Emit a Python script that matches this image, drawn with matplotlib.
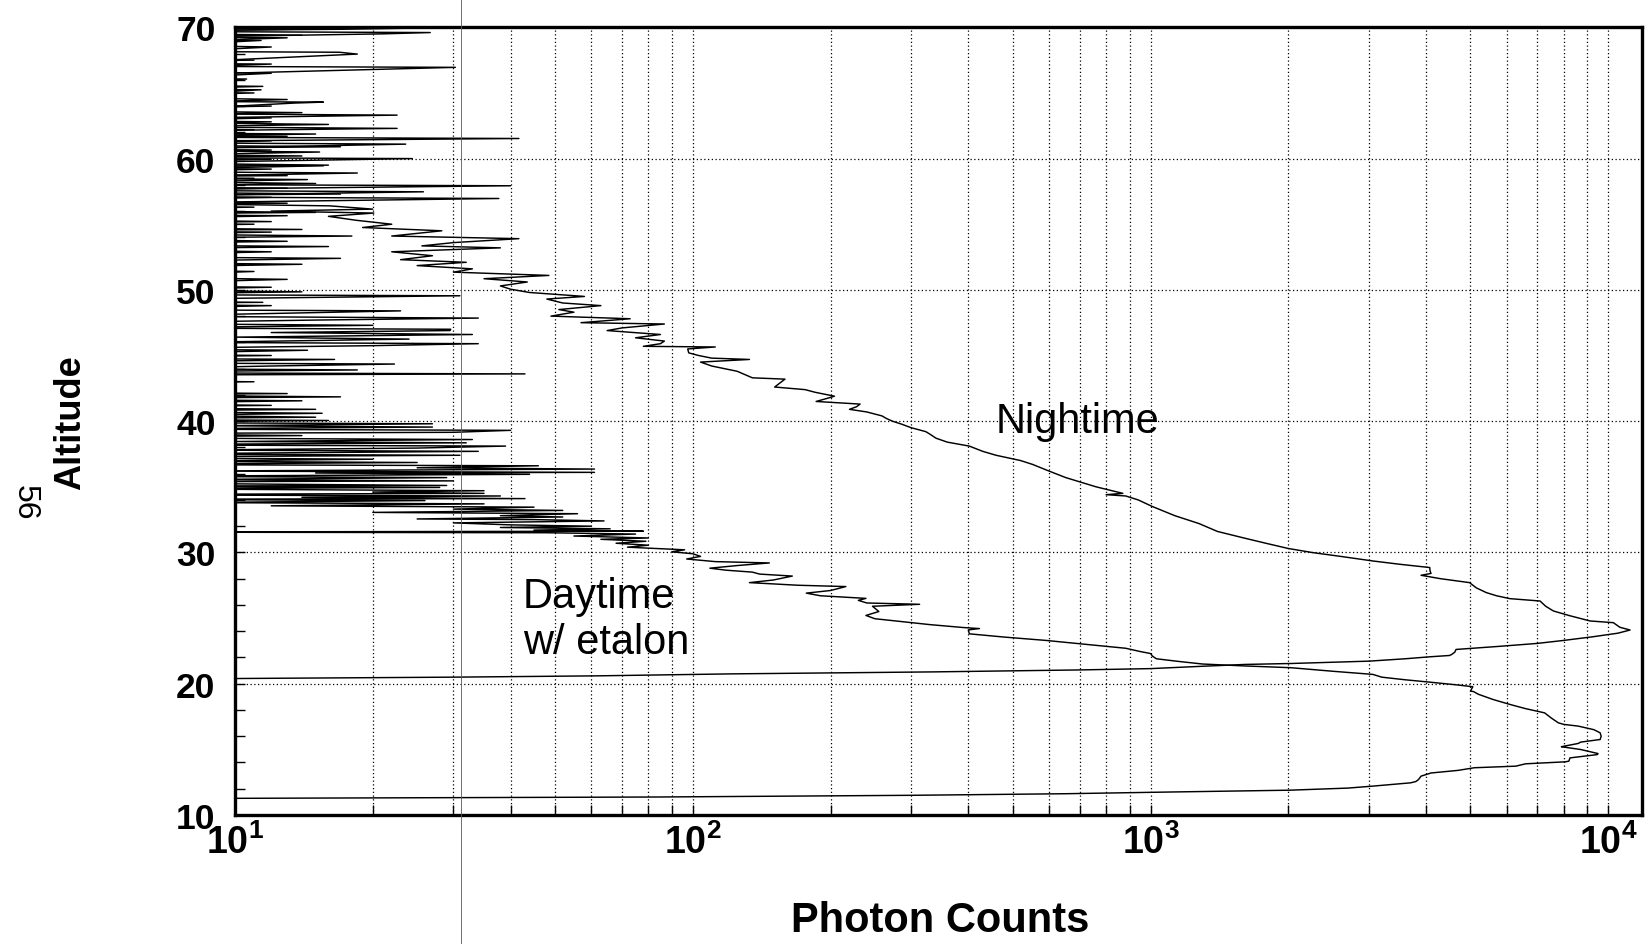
import matplotlib
matplotlib.use('Agg')
import matplotlib.pyplot as plt
from matplotlib.ticker import LogLocator, FixedLocator, MultipleLocator, NullFormatter
from matplotlib.lines import Line2D

# ---------------- data ----------------
day_alt = [11.20, 11.27, 11.37, 11.50, 11.62, 11.75, 11.89, 12.05, 12.20, 12.45, 12.55, 12.70, 12.96,
           13.20, 13.40, 13.60, 13.72, 13.90, 14.05, 14.10, 14.35, 14.60, 14.68, 14.99, 15.20, 15.24,
           15.45, 15.55, 15.75, 16.00, 16.26, 16.50, 16.77, 16.90, 17.02, 17.40, 17.78, 18.10, 18.42,
           18.80, 19.20, 19.40, 19.44, 19.77, 19.90, 20.12, 20.30, 20.50, 20.65, 20.71, 20.95, 21.22,
           21.35, 21.50, 21.70, 21.90, 22.10, 22.30, 22.45, 22.70, 23.00, 23.30, 23.55, 23.80, 24.10,
           24.20, 24.28, 24.50, 24.70, 24.95, 25.20, 25.50, 25.90, 26.05, 26.15, 26.35, 26.50, 26.70,
           26.90, 27.10, 27.40, 27.50, 27.70, 27.90, 28.20, 28.35, 28.50, 28.65, 28.80, 29.00, 29.20,
           29.30, 29.50, 29.70, 29.90, 30.05, 30.20, 30.40, 30.55, 30.70, 30.85, 31.00, 31.10, 31.25,
           31.40, 31.50, 31.55, 31.62, 31.70, 31.80, 31.90, 32.00, 32.10, 32.25, 32.40, 32.50, 32.55,
           32.70, 32.80, 32.95, 33.05, 33.20, 33.30, 33.45, 33.55, 33.70, 33.80, 33.95, 34.05, 34.10,
           34.20, 34.30, 34.40, 34.50, 34.60, 34.70, 34.85, 34.95, 35.05, 35.10, 35.20, 35.35, 35.45,
           35.55, 35.70, 35.80, 35.95, 36.05, 36.10, 36.20, 36.35, 36.45, 36.60, 36.70, 36.85, 36.95,
           37.10, 37.25, 37.40, 37.50, 37.70, 37.80, 37.95, 38.10, 38.20, 38.35, 38.45, 38.60, 38.75,
           38.90, 39.05, 39.15, 39.30, 39.40, 39.55, 39.65, 39.80, 39.90, 40.05, 40.15, 40.30, 40.45,
           40.60, 40.75, 40.90, 41.05, 41.20, 41.35, 41.55, 41.70, 41.85, 42.00, 42.10, 42.25, 42.90,
           43.00, 43.10, 43.50, 43.60, 43.70, 43.90, 44.00, 44.20, 44.35, 44.45, 44.70, 44.80, 45.00,
           45.10, 45.40, 45.50, 45.75, 45.90, 46.00, 46.25, 46.40, 46.60, 46.75, 46.90, 47.00, 47.10,
           47.30, 47.45, 47.70, 47.85, 48.00, 48.20, 48.40, 48.50, 48.80, 48.95, 49.05, 49.20, 49.55,
           49.65, 49.85, 50.00, 50.20, 50.35, 50.80, 51.00, 51.40, 51.60, 51.95, 52.10, 52.40, 52.55,
           52.90, 53.10, 53.30, 53.45, 53.70, 53.90,
           54.10, 54.25, 54.40, 54.50, 54.60, 54.80, 55.00, 55.10, 55.20, 55.40,
           55.65, 55.75, 55.90, 56.10, 56.30, 56.45, 56.60, 56.80, 57.05, 57.15,
           57.30, 57.50, 57.75, 57.85, 58.10, 58.30, 58.50, 58.60, 58.70, 58.90,
           59.20, 59.30, 59.50, 59.70, 59.95, 60.05, 60.20, 60.40, 60.65, 60.75,
           60.90, 61.05, 61.35, 61.45, 61.70, 61.90, 62.20, 62.35, 62.60, 62.80,
           63.10, 63.20, 63.50, 63.70, 64.00, 64.10, 64.50, 64.70, 65.00, 65.10,
           65.50, 65.70, 66.50, 66.70, 67.20, 67.30, 67.50, 67.70, 68.50, 68.70,
           69.20, 69.30, 69.40, 69.60, 69.90, 70.00]
day_cnt = [3, 10, 83, 300, 650, 1100, 2014, 2700, 3060, 3700, 3800, 3850, 3900,
           4100, 4700, 5100, 6280, 6600, 8050, 8200, 8250, 9460, 9500, 8700, 7900, 8000,
           8600, 8700, 9600, 9650, 9600, 9300, 8600, 8000, 7780, 7500, 7260, 6600, 6100,
           5600, 5200, 5080, 5000, 5060, 4700, 4074, 3600, 3200, 3100, 3060, 2500, 2026,
           1615, 1300, 1150, 1030, 1010, 1000, 950, 883, 720, 590, 480, 402, 400,
           423, 390, 330, 292, 250, 239, 255, 247, 313, 240, 230, 239, 190,
           177, 200, 216, 170, 133, 150, 165, 140, 135, 118, 109, 125, 147,
           112, 97, 104, 100, 90, 96, 72, 80, 68, 79, 63, 80, 55,
           75, 48, 5, 78, 45, 66, 38, 60, 40, 30, 64, 45, 25,
           52, 38, 56, 20, 52, 30, 45, 12, 35, 8, 26, 5, 43,
           14, 38, 4, 35, 20, 35, 6, 28, 5, 29, 12, 4, 30,
           8, 29, 6, 44, 15, 61, 8, 61, 25, 46, 5, 25, 7,
           20, 4, 31, 6, 34, 8, 25, 39, 5, 32, 10, 33, 4,
           14, 5, 30, 40, 6, 27, 9, 27, 5, 16, 4, 15, 7,
           15.5, 5, 15, 4, 12, 5, 14, 4, 17, 5, 13, 4, 6,
           11, 5, 5, 43, 4, 18.5, 6, 12, 22.3, 5, 16.5, 4, 12,
           5, 14.4, 5, 20, 34, 8, 24, 10, 33, 12, 29.5, 29.6, 6,
           20, 5, 15, 34, 6, 12, 23, 5, 12, 4, 11.5, 4, 31,
           5, 14, 6, 12, 4, 13, 5, 11, 4, 14, 5, 17, 4,
           12, 5, 16, 4, 13, 5,
           18, 6, 12, 4, 14, 4, 11, 5, 12, 5,
           13, 4, 15, 4, 11, 5, 13, 5, 12, 4,
           17, 4, 13, 5, 15, 5, 11, 4, 13, 4,
           12, 5, 16, 5, 12, 4, 14, 4, 12, 5,
           17, 5, 12, 4, 13, 4, 11, 5, 16, 5,
           12, 4, 14, 4, 12, 5, 13, 5, 11, 4,
           11.5, 4, 12, 5, 12, 4, 11, 4, 12, 5,
           13, 4, 14, 4, 17, 5]

night_alt = [20.20, 20.40, 20.50, 20.60, 20.75, 20.90, 21.05, 21.15, 21.33, 21.47, 21.54, 21.72, 21.90,
             22.05, 22.15, 22.23, 22.40, 22.61, 22.85, 23.07, 23.30, 23.58, 23.85, 24.09, 24.30, 24.65,
             24.78, 25.20, 25.54, 25.90, 26.30, 26.48, 26.70, 26.94, 27.30, 27.70, 28.00, 28.26, 28.40,
             28.60, 28.85, 29.10, 29.35, 29.70, 29.99, 30.30, 30.70, 31.10, 31.60, 32.20, 32.80, 33.50,
             34.00, 34.30, 34.40, 34.50, 35.00, 35.70, 36.20, 36.70, 37.00, 37.40, 37.70, 38.10, 38.40,
             38.70, 39.00, 39.20, 39.50, 39.77, 40.00, 40.20, 40.40, 40.70, 40.90, 41.10, 41.30, 41.50,
             41.70, 41.90, 42.20, 42.40, 42.60, 42.90, 43.20, 43.30, 43.80, 44.20, 44.50, 44.70, 44.80,
             45.00, 45.20, 45.50, 45.65, 45.70, 45.90, 46.10, 46.35, 46.60, 46.90, 47.10, 47.40, 47.50,
             47.80, 48.00, 48.30, 48.50, 48.80, 49.00, 49.30, 49.50, 49.80, 50.05, 50.30, 50.60, 50.85,
             51.10, 51.35, 51.60, 51.85, 52.10, 52.30, 52.60, 52.90, 53.20, 53.35, 53.60, 53.90, 54.10,
             54.50, 54.75, 55.00, 55.30, 55.60, 55.85, 56.00, 56.15, 56.40, 56.60, 56.96, 57.10, 57.47,
             57.60, 57.93, 58.05, 58.40, 58.55, 58.90, 59.05, 59.45, 59.60, 60.00, 60.10, 60.50, 60.65,
             61.10, 61.25, 61.53, 61.65, 61.87, 62.00, 62.30, 62.45, 62.80, 62.95, 63.31, 63.45, 64.23,
             64.30, 64.40, 65.24, 65.35, 66.06, 66.15, 66.95, 67.05, 67.96, 68.10, 68.20, 69.00, 69.10,
             69.50, 69.60, 69.70, 69.85, 69.95, 70.00]
night_cnt = [2, 10.5, 30, 62, 122, 334, 700, 1000, 1300, 1615, 2026, 3005, 3600,
             4074, 4500, 4550, 4620, 4650, 5800, 7000, 8000, 9270, 10500, 11160, 10600, 10260,
             9125, 8200, 7590, 7300, 7096, 6097, 5700, 5415, 5150, 4977, 4300, 3900, 4100,
             4080, 4074, 3500, 3060, 2600, 2259, 2000, 1786, 1600, 1400, 1276, 1130, 1009,
             940, 883, 800, 870, 760, 653, 600, 553, 520, 460, 430, 402, 360,
             340, 330, 323, 300, 286, 273, 265, 259, 240, 220, 228, 232, 186,
             195, 204, 185, 176, 151, 155, 159, 135, 125, 110, 104, 133, 110,
             103, 98, 97.5, 112, 78, 85, 86.7, 75, 85, 65, 70, 86.7, 57,
             73, 49, 55, 51, 63, 52, 48, 58, 44, 40, 38, 43.5, 35,
             48.5, 30, 33, 25, 32, 23, 27, 22, 38, 25.6, 30, 41.7, 22,
             28.3, 19, 22, 18.4, 16, 20.1, 12, 20, 16.1, 6, 37.7, 5, 25.8,
             5, 40, 4, 14.4, 5, 18.5, 4, 15.6, 5, 24.4, 4, 15.3, 5,
             23.6, 4, 41.7, 5, 15, 4, 22.6, 5, 12, 4, 22.6, 5, 13.5,
             15.6, 4, 11.4, 4, 10.6, 4, 30.3, 5, 18.5, 16.9, 4, 11.4, 4,
             21, 26.7, 5, 17, 26, 5]

x_ticks = [10, 100, 1000, 10000]
x_tick_labels = [r'$\mathbf{10^{1}}$', r'$\mathbf{10^{2}}$', r'$\mathbf{10^{3}}$', r'$\mathbf{10^{4}}$']
y_ticks = [10, 20, 30, 40, 50, 60, 70]
y_tick_labels = ['10', '20', '30', '40', '50', '60', '70']

# ---------------- style ----------------
plt.rcParams['font.family'] = ['Liberation Sans', 'DejaVu Sans']
plt.rcParams['mathtext.fontset'] = 'custom'
plt.rcParams['mathtext.rm'] = 'Liberation Sans'
plt.rcParams['mathtext.bf'] = 'Liberation Sans:bold'

W, H = 1646, 945
fig = plt.figure(figsize=(W / 100, H / 100), dpi=100)
left, right, top, bottom = 235, 1642, 28.3, 816
ax = fig.add_axes([left / W, 1 - bottom / H, (right - left) / W, (bottom - top) / H])

ax.plot(day_cnt, day_alt, color='black', lw=1.05)
ax.plot(night_cnt, night_alt, color='black', lw=1.05)

ax.set_xscale('log')
ax.set_xlim(10, 11850)
ax.set_ylim(10, 70)

ax.xaxis.set_major_locator(FixedLocator(x_ticks))
ax.set_xticklabels(x_tick_labels)
ax.xaxis.set_minor_locator(LogLocator(base=10, subs=[2, 3, 4, 5, 6, 7, 8, 9]))
ax.xaxis.set_minor_formatter(NullFormatter())
ax.set_yticks(y_ticks)
ax.set_yticklabels(y_tick_labels, fontweight='bold')
ax.yaxis.set_minor_locator(MultipleLocator(2))

ax.tick_params(axis='both', which='both', direction='in', length=7, width=1.0, color='black')
ax.tick_params(axis='y', which='major', labelsize=25.5, pad=14)
ax.tick_params(axis='x', which='major', labelsize=27, pad=6)

dot = (0, (1, 2))
ax.grid(True, which='major', axis='y', linestyle=dot, color='black', lw=0.9)
ax.grid(True, which='both', axis='x', linestyle=dot, color='black', lw=0.9)

for s in ax.spines.values():
    s.set_linewidth(2.4)
    s.set_color('black')

fig.text(71 / W, 1 - 423 / H, 'Altitude', rotation=90, ha='center', va='center',
         fontsize=26, fontweight='bold')
fig.text(940 / W, 1 - 921 / H, 'Photon Counts', ha='center', va='center',
         fontsize=30, fontweight='bold')

ax.text(459, 40.0, 'Nightime', ha='left', va='center', fontsize=30)
ax.text(42.5, 24.9, 'Daytime\nw/ etalon', ha='left', va='center', fontsize=30, linespacing=1.2)

# scan artefacts: page number and a thin vertical streak
fig.text(25 / W, 1 - 503 / H, '56', rotation=270, ha='center', va='center', fontsize=23)
fig.add_artist(Line2D([461 / W, 461 / W], [0, 1], transform=fig.transFigure,
                      color='0.35', lw=0.6))

fig.savefig('out.png', dpi=100)
